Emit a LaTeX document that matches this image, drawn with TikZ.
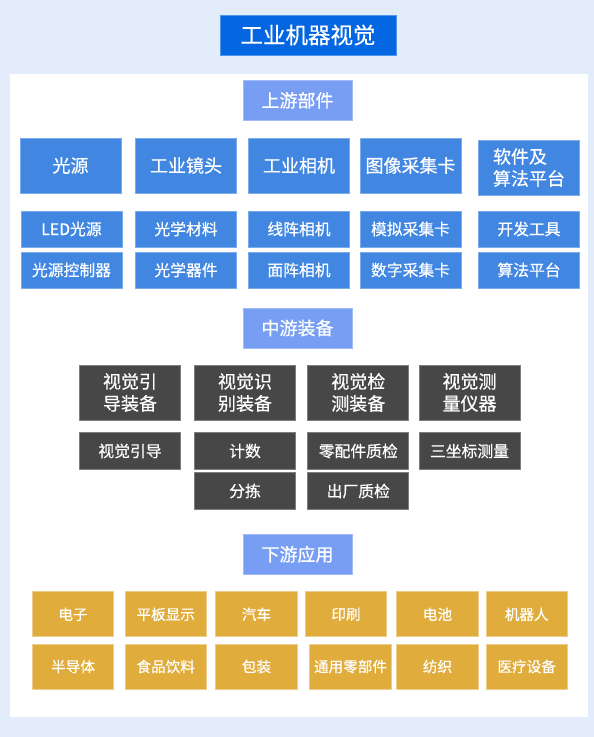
\documentclass[tikz,border=0pt]{standalone}
\usepackage{fontspec}
\setmainfont{Noto Sans CJK SC}[FakeBold=0.5]
\definecolor{bgblue}{HTML}{E3ECFA}
\definecolor{titleblue}{HTML}{0467E1}
\definecolor{headblue}{HTML}{789EF4}
\definecolor{boxblue}{HTML}{4187E2}
\definecolor{boxdark}{HTML}{474747}
\definecolor{boxgold}{HTML}{E0AC3B}
\tikzset{
  x=1pt, y=-1pt,
  base/.style={inner sep=0pt, outer sep=0pt, text=white, align=center, line width=0.8pt},
  titlebox/.style={base, fill=titleblue, draw=titleblue!70!white, minimum width=176pt, minimum height=40pt, font=\fontsize{22.5}{26}\selectfont},
  headbox/.style={base, fill=headblue, draw=headblue!70!white, minimum width=109pt, minimum height=40pt, font=\fontsize{18}{22}\selectfont},
  bluebig/.style={base, fill=boxblue, draw=boxblue!70!white, minimum width=101pt, minimum height=55pt, font=\fontsize{18}{22}\selectfont},
  bluesmall/.style={base, fill=boxblue, draw=boxblue!70!white, minimum width=101pt, minimum height=36pt, font=\fontsize{15.8}{20}\selectfont},
  darkbig/.style={base, fill=boxdark, draw=boxdark!70!white, minimum width=101pt, minimum height=55pt, font=\fontsize{18}{22}\selectfont},
  darksmall/.style={base, fill=boxdark, draw=boxdark!70!white, minimum width=101pt, minimum height=36.5pt, font=\fontsize{15.8}{20}\selectfont},
  goldbox/.style={base, fill=boxgold, draw=boxgold!60!white, minimum width=81.5pt, minimum height=45pt, font=\fontsize{14.6}{18}\selectfont},
}
\begin{document}
\begin{tikzpicture}
\fill[bgblue] (0,0) rectangle (594,737);
\useasboundingbox (0,0) rectangle (594,737);
\fill[white] (9.5,74) rectangle (588,717);

\node[titlebox] (title) at (308,35) {工业机器视觉};

% upstream
\node[headbox] (up) at (297.5,100.3) {上游部件};
\node[bluebig] (u11) at (70.5,165.5) {光源};
\node[bluebig] (u12) at (186,165.5) {工业镜头};
\node[bluebig] (u13) at (299,165.5) {工业相机};
\node[bluebig] (u14) at (410.5,165.5) {图像采集卡};
\node[bluebig, align=left] (u15) at (529,167.5) {软件及\\算法平台};
\node[bluesmall] (u21) at (71.5,229) {LED光源};
\node[bluesmall] (u22) at (186,229) {光学材料};
\node[bluesmall] (u23) at (299,229) {线阵相机};
\node[bluesmall] (u24) at (410.5,229) {模拟采集卡};
\node[bluesmall] (u25) at (529,229) {开发工具};
\node[bluesmall] (u31) at (71.5,270) {光源控制器};
\node[bluesmall] (u32) at (186,270) {光学器件};
\node[bluesmall] (u33) at (299,270) {面阵相机};
\node[bluesmall] (u34) at (410.5,270) {数字采集卡};
\node[bluesmall] (u35) at (529,270) {算法平台};

% midstream
\node[headbox] (mid) at (297.5,328) {中游装备};
\node[darkbig, align=left] (m11) at (130,392.5) {视觉引\\导装备};
\node[darkbig, align=left] (m12) at (245,392.5) {视觉识\\别装备};
\node[darkbig, align=left] (m13) at (358.3,392.5) {视觉检\\测装备};
\node[darkbig, align=left] (m14) at (469.5,392.5) {视觉测\\量仪器};
\node[darksmall] (m21) at (130,451) {视觉引导};
\node[darksmall] (m22) at (245,451) {计数};
\node[darksmall] (m23) at (358.3,451) {零配件质检};
\node[darksmall] (m24) at (469.5,451) {三坐标测量};
\node[darksmall] (m32) at (245,491) {分拣};
\node[darksmall] (m33) at (358.3,491) {出厂质检};

% downstream
\node[headbox] (down) at (297.5,554.3) {下游应用};
\node[goldbox] (d11) at (73,614.3) {电子};
\node[goldbox] (d12) at (165.7,614.3) {平板显示};
\node[goldbox] (d13) at (256.5,614.3) {汽车};
\node[goldbox] (d14) at (346,614.3) {印刷};
\node[goldbox] (d15) at (437.5,614.3) {电池};
\node[goldbox] (d16) at (526.7,614.3) {机器人};
\node[goldbox] (d21) at (73,666.5) {半导体};
\node[goldbox] (d22) at (165.7,666.5) {食品饮料};
\node[goldbox] (d23) at (256.5,666.5) {包装};
\node[goldbox] (d24) at (350.5,666.5) {通用零部件};
\node[goldbox] (d25) at (437.5,666.5) {纺织};
\node[goldbox] (d26) at (526.7,666.5) {医疗设备};
\end{tikzpicture}
\end{document}
